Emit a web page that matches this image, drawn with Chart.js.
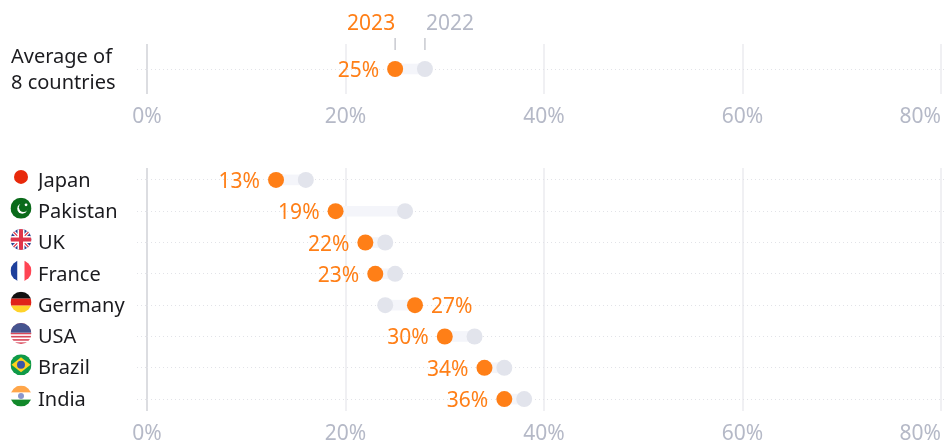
<!DOCTYPE html>
<html><head><meta charset="utf-8">
<script src="https://cdn.jsdelivr.net/npm/chart.js@4"></script>
<style>
html,body{margin:0;padding:0;background:#fff;width:947px;height:444px;overflow:hidden}
canvas{position:absolute;left:0}
#top{top:0}#bottom{top:140px}
</style></head><body>
<canvas id="top" width="947" height="130"></canvas>
<canvas id="bottom" width="947" height="304"></canvas>
<script>
const averageLabels = [["Average of","8 countries"]];
const average2023 = [25];
const average2022 = [28];
const countries = ["Japan","Pakistan","UK","France","Germany","USA","Brazil","India"];
const values2023 = [13,19,22,23,27,30,34,36];
const values2022 = [16,26,24,25,24,33,36,38];
const xTicks = [0,20,40,60,80];
const series = ["2023","2022"];

const FONT = '"Noto Sans", sans-serif';
const ORANGE = '#ff7f17', GREY = '#e2e4ec', TICK = '#b5b9c7', INK = '#1b1b1f';

function disc(ctx,x,y,r,paint){
  ctx.save();ctx.beginPath();ctx.arc(x,y,r,0,Math.PI*2);ctx.clip();
  paint(x-r,y-r,2*r);ctx.restore();
}
const flags = {
  Japan(c,x,y,s){c.fillStyle='#e8290b';c.beginPath();c.arc(x+s/2,y+s/2,7,0,7);c.fill();},
  Pakistan(c,x,y,s){c.fillStyle='#0a6a1a';c.fillRect(x,y,s,s);
    c.fillStyle='#fff';c.beginPath();c.arc(x+s*.56,y+s*.52,5,0,7);c.fill();
    c.fillStyle='#0a6a1a';c.beginPath();c.arc(x+s*.62,y+s*.46,4.6,0,7);c.fill();
    c.fillStyle='#fff';c.beginPath();c.arc(x+s*.74,y+s*.34,1.4,0,7);c.fill();},
  UK(c,x,y,s){c.fillStyle='#2b3f8f';c.fillRect(x,y,s,s);
    c.strokeStyle='#fff';c.lineWidth=3.5;c.beginPath();c.moveTo(x,y);c.lineTo(x+s,y+s);c.moveTo(x+s,y);c.lineTo(x,y+s);c.stroke();
    c.strokeStyle='#e0344a';c.lineWidth=1.2;c.stroke();
    c.fillStyle='#fff';c.fillRect(x+s/2-3.5,y,7,s);c.fillRect(x,y+s/2-3.5,s,7);
    c.fillStyle='#e0344a';c.fillRect(x+s/2-2,y,4,s);c.fillRect(x,y+s/2-2,s,4);},
  France(c,x,y,s){c.fillStyle='#1d3f9c';c.fillRect(x,y,s/3,s);c.fillStyle='#fff';c.fillRect(x+s/3,y,s/3,s);c.fillStyle='#ff4453';c.fillRect(x+2*s/3,y,s/3,s);},
  Germany(c,x,y,s){c.fillStyle='#111';c.fillRect(x,y,s,s/3);c.fillStyle='#e0231a';c.fillRect(x,y+s/3,s,s/3);c.fillStyle='#ffd32a';c.fillRect(x,y+2*s/3,s,s/3);},
  USA(c,x,y,s){c.fillStyle='#fff';c.fillRect(x,y,s,s);c.fillStyle='#d9485a';
    for(let i=0;i<7;i++)c.fillRect(x,y+i*s/6.5,s,s/13);
    c.fillStyle='#46548f';c.fillRect(x,y,s,s*.46);},
  Brazil(c,x,y,s){c.fillStyle='#0f9a48';c.fillRect(x,y,s,s);c.fillStyle='#ffd21f';c.beginPath();c.moveTo(x+1,y+s/2);c.lineTo(x+s/2,y+3);c.lineTo(x+s-1,y+s/2);c.lineTo(x+s/2,y+s-3);c.closePath();c.fill();
    c.fillStyle='#3a55a8';c.beginPath();c.arc(x+s/2,y+s/2,4,0,7);c.fill();},
  India(c,x,y,s){c.fillStyle='#ffa64a';c.fillRect(x,y,s,s/3);c.fillStyle='#fff';c.fillRect(x,y+s/3,s,s/3);c.fillStyle='#12892a';c.fillRect(x,y+2*s/3,s,s/3);
    c.fillStyle='#8a96cc';c.beginPath();c.arc(x+s/2,y+s/2,3,0,7);c.fill();}
};

const dumbbellLabels = {
  id:'dumbbellLabels',
  afterDraw(chart,_a,o){
    const c=chart.ctx,xs=chart.scales.x,ys=chart.scales.y;
    c.save();
    c.textBaseline='middle';
    c.font='21px '+FONT;
    c.fillStyle=TICK;
    const labelY=chart.chartArea.bottom+23;
    xTicks.forEach(t=>{
      const last=t===xTicks[xTicks.length-1];
      c.textAlign=last?'right':'center';
      c.fillText(t+'%',xs.getPixelForValue(t),labelY);
    });
    o.a.forEach((v,i)=>{
      const px=xs.getPixelForValue(v),py=ys.getPixelForValue(i);
      const right=v>o.b[i];
      c.fillStyle=ORANGE;
      c.textAlign=right?'left':'right';
      c.fillText(v+'%',px+(right?16:-16),py+2);
    });
    if(o.flags){
      countries.forEach((n,i)=>{
        const py=ys.getPixelForValue(i)-3;
        disc(c,21,py,10.5,(x,y,s)=>flags[n](c,x,y,s));
      });
    }
    if(o.legend){
      const x3=xs.getPixelForValue(o.a[0]),x2=xs.getPixelForValue(o.b[0]);
      c.lineWidth=1.5;c.strokeStyle='#c8cad0';
      c.beginPath();c.moveTo(x3,38);c.lineTo(x3,50);c.moveTo(x2,38);c.lineTo(x2,50);c.stroke();
      c.fillStyle=ORANGE;c.textAlign='right';c.fillText(series[0],x3,24);
      c.fillStyle=TICK;c.textAlign='left';c.fillText(series[1],x2+1,24);
    }
    c.restore();
  }
};

function build(id,labels,a,b,pad,opts){
  const rows=labels.map((_,i)=>i);
  const link=a.map((v,i)=>({x:[Math.min(v,b[i]),Math.max(v,b[i])],y:i}));
  return new Chart(document.getElementById(id),{
    type:'bar',
    plugins:[dumbbellLabels],
    data:{datasets:[
      {type:'scatter',label:series[0],order:1,data:a.map((v,i)=>({x:v,y:i})),backgroundColor:ORANGE,borderColor:ORANGE,pointRadius:8,pointHoverRadius:8,borderWidth:0},
      {type:'scatter',label:series[1],order:2,data:b.map((v,i)=>({x:v,y:i})),backgroundColor:GREY,borderColor:GREY,pointRadius:8,pointHoverRadius:8,borderWidth:0},
      {type:'bar',label:'gap',order:3,data:link,backgroundColor:'#f4f5fa',barThickness:10,borderWidth:0}
    ]},
    options:{
      indexAxis:'y',responsive:false,animation:false,events:[],
      layout:{padding:pad,autoPadding:false},
      plugins:{legend:{display:false},tooltip:{enabled:false},dumbbellLabels:{a,b,...opts}},
      scales:{
        x:{type:'linear',min:0,max:80.6,offset:false,
          afterBuildTicks(s){s.ticks=xTicks.map(value=>({value}));},
          afterFit(s){s.height=0;},
          ticks:{display:false},border:{display:false},
          grid:{drawTicks:false,offset:false,lineWidth:2,color:c=>c.tick&&c.tick.value===0?'#dcdde1':'#f0f0f3'}},
        y:{type:'linear',reverse:true,min:opts.yMin,max:opts.yMax,offset:false,
          afterBuildTicks(s){s.ticks=rows.map(value=>({value}));},
          afterFit(s){s.width=136-(pad.left-11);},
          border:{display:false,dash:[1,3]},
          grid:{offset:false,color:'#e2e3e8',lineWidth:1,tickBorderDash:[1,3],tickLength:10,tickColor:'#e2e3e8'},
          ticks:{autoSkip:false,crossAlign:'far',labelOffset:1,color:INK,font:{family:FONT,size:20,lineHeight:1.3},callback:v=>labels[v]}}
      }
    }
  });
}
build('top',averageLabels,average2023,average2022,{top:44,left:11,right:0,bottom:36},{legend:true,yMin:-0.5,yMax:0.5});
build('bottom',countries,values2023,values2022,{top:28,left:38,right:0,bottom:33},{flags:true,yMin:-0.38,yMax:7.38});
</script>
</body></html>
